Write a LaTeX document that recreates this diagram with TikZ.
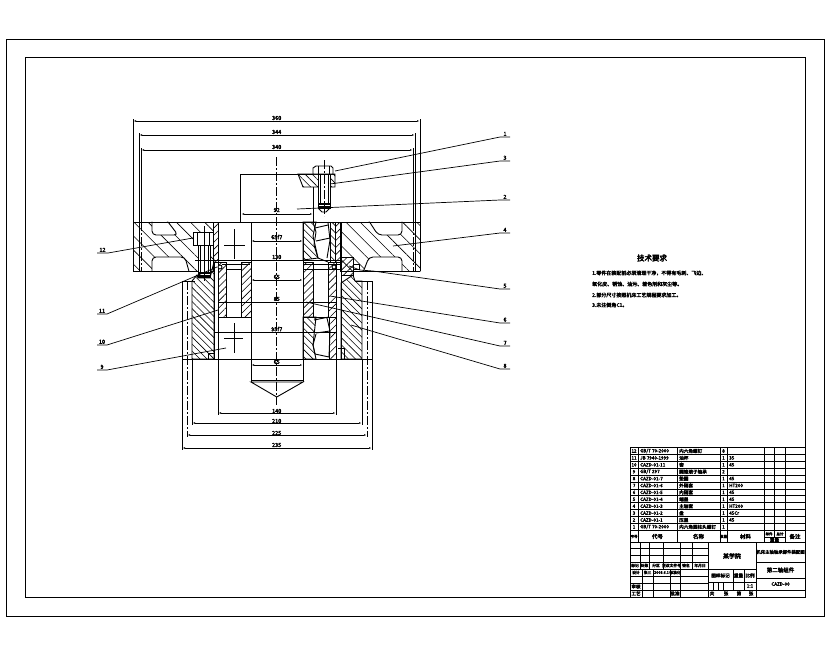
\documentclass[tikz,border=0pt]{standalone}
\usepackage{fontspec}
\setmainfont{Noto Sans CJK SC}
\newfontfamily\blobfont[FakeBold=4]{Noto Sans CJK SC}
\usetikzlibrary{patterns.meta,arrows.meta}
\newcommand{\gbcode}{GB/T}
\tikzset{
  part/.style={line width=.9pt},
  thin part/.style={line width=.7pt},
  hatch wide/.style={draw,line width=.9pt,pattern={Lines[angle=-45,distance=10pt,line width=.6pt]}},
  hatch back/.style={draw,line width=.9pt,pattern={Lines[angle=-45,distance=5pt,line width=.6pt]}},
  hatch fore/.style={draw,line width=.9pt,pattern={Lines[angle=45,distance=5pt,line width=.6pt]}},
  axis/.style={line width=.7pt,dash pattern=on 9pt off 2pt on 2pt off 2pt},
  dimline/.style={line width=.7pt,{Latex[length=3pt,width=1.6pt]}-{Latex[length=3pt,width=1.6pt]}},
  dimtext/.style={font=\blobfont\fontsize{5.5}{6}\selectfont,inner sep=0pt},
  partno/.style={font=\blobfont\fontsize{5.5}{6}\selectfont,inner sep=0pt},
  leader/.style={line width=.7pt},
  cell/.style={font=\blobfont\fontsize{4.6}{5}\selectfont,inner sep=0pt},
  note/.style={font=\blobfont\fontsize{5}{6}\selectfont,inner sep=0pt,anchor=west},
}
\begin{document}
\begin{tikzpicture}[x=1pt,y=-1pt]
\useasboundingbox (0,0) rectangle (830,654);
\fill[white] (0,0) rectangle (830,654);
% frames
\draw[part] (6,39) rectangle (824,616);
\draw[part] (25,57) rectangle (805,597);

% upper flange
\draw[hatch wide] (133,222) rectangle (213,271);
\draw[hatch wide] (340,222) rectangle (420,271);
\draw[part,fill=white,rounded corners=4pt] (152,218) -- (152,235) -- (178,235) -- (165,218);
\draw[part,fill=white,rounded corners=4pt] (152,275) -- (152,257) -- (185,257) -- (190,275);
\draw[part,fill=white,rounded corners=4pt] (367,218) -- (378,235) -- (402,235) -- (402,218);
\draw[part,fill=white,rounded corners=4pt] (362,275) -- (369,257) -- (402,257) -- (402,275);
\fill[white] (130,271.4) rectangle (195,276) (353,271.4) rectangle (424,276) (130,217) rectangle (424,221.6);
\draw[part] (133,222) -- (420,222) (133,271) -- (195,271) (353,271) -- (420,271);

% central block and cap screw
\draw[part] (240,222) -- (240,174) -- (335,174);
\draw[hatch back] (298,174) -- (335,174) -- (335,187) -- (303,187) -- cycle;
\draw[part,fill=white] (313,174) -- (313,168) -- (316,166) -- (331,166) -- (333,168) -- (333,174) -- cycle;
\draw[part] (318,166) -- (318,174) (329,166) -- (329,174);
\draw[part,fill=white] (318,174) rectangle (330,208);
\draw[part] (320,174) -- (320,205) (328,174) -- (328,205);
\draw[line width=1.6pt] (318,204) -- (330,204) (318,207) -- (330,207);
\draw[part] (318,208) -- (322,212) -- (326,212) -- (330,208);
\draw[axis] (324,160) -- (324,216);
\draw[part] (313,187) -- (313,222);

% columns between flange and bore
\draw[hatch fore] (213,222) rectangle (218,262);
\draw[part] (218,222) -- (218,359) (251,222) -- (251,382) (303,222) -- (303,382);
\draw[hatch back] (303,222) -- (316,222) -- (313,236) -- (318,258) -- (303,260) -- cycle;
\draw[part] (313,222) -- (316,232) -- (314,245) -- (318,258) -- (328,262);
\draw[part] (328,222) -- (330,240) -- (327,258);
\draw[part] (315,228) -- (328,225) (316,241) -- (330,238);
\draw[hatch back] (330,222) rectangle (335,262);
\draw[hatch fore] (335,222) rectangle (340,262);
\draw[part] (224,245) -- (245,245) (234.5,229) -- (234.5,259);

% left cap screw in flange
\draw[part,fill=white] (193,232) rectangle (213,245);
\draw[part] (197,232) -- (197,245) (209,232) -- (209,245);
\draw[part,fill=white] (198,245) rectangle (210,277);
\draw[part] (200,245) -- (200,272) (208,245) -- (208,272);
\draw[line width=1.6pt] (198,273) -- (210,273) (198,276) -- (210,276);
\draw[part] (204,226) -- (204,281);

% lower housing
\draw[hatch back] (192,281) -- (197,275) -- (198,278) -- (210,278) -- (214,262) -- (214,359) -- (192,359) -- cycle;
\draw[part] (208,359) -- (208,353) -- (214,353);
\draw[part] (214,262) rectangle (218,359);
\draw[hatch fore] (218,262) rectangle (226,317);
\draw[hatch fore] (241,262) rectangle (251,317);
\draw[part,fill=white] (226,269) rectangle (241,317);
\draw[part] (222,260) -- (250,260) (222,264) -- (250,264) (226,269) -- (241,269);
\draw[part,fill=white] (220,267) circle (2pt);
\draw[part] (218,317) -- (251,317);
\draw[part] (224,338) -- (243,338) (234.5,323) -- (234.5,353);

\draw[hatch fore] (303,262) rectangle (313,317);
\draw[hatch fore] (328,262) rectangle (336,317);
\draw[part,fill=white] (313,269) rectangle (328,317);
\draw[part] (303,264) -- (341,264) (303,269) -- (341,269) (303,260) -- (341,260);
\draw[part,fill=white] (334,267) circle (2pt);
\draw[hatch back] (303,317) -- (316,317) -- (313,345) -- (316,359) -- (303,359) -- cycle;
\draw[part] (314,320) -- (329,317) (316,333) -- (330,331) -- (327,318) (316,334) -- (313,345) -- (315,354) -- (329,357) (330,331) -- (329,357);
\draw[hatch fore] (329,317) rectangle (336,359);
\draw[part] (336,262) -- (336,359);
\draw[hatch back] (341,283) -- (353,275) -- (355,281) -- (362,281) -- (362,359) -- (341,359) -- cycle;
\draw[part] (341,222) -- (341,359);
\draw[hatch fore] (341.5,257) rectangle (353,275);
\draw[part] (353,264) -- (359,264) -- (359,269) -- (353,269);
\draw[part] (338,348) -- (344,348) -- (344,359);

% housing outline and bore end
\draw[part] (182,359) -- (372,359);
\draw[part] (182,281) -- (195,281) (355,281) -- (372,281);
\draw[part] (251,380) -- (303,380);
\draw[part] (251,382) -- (303,382) -- (276.7,397) -- cycle;

% extension lines
\draw[thin part] (133,119) -- (133,271) (420,119) -- (420,271);
\draw[thin part] (139,133) -- (139,271) (415,133) -- (415,271);
\draw[thin part] (141,148) -- (141,222) (413,148) -- (413,222);
\draw[axis] (141,222) -- (141,271) (413,222) -- (413,271);
\draw[thin part] (182,281) -- (182,450) (372,281) -- (372,450);
\draw[axis] (187,281) -- (187,437) (367,281) -- (367,437);
\draw[thin part] (192,359) -- (192,425) (362,359) -- (362,425);
\draw[thin part] (218,359) -- (218,415) (336,359) -- (336,415);
\draw[axis] (276.7,157) -- (276.7,405);

% dimensions
\draw[dimline] (133,121) -- (420,121);
\draw[dimline] (139,135) -- (415,135);
\draw[dimline] (141,150) -- (413,150);
\draw[dimline] (241,214) -- (313,214);
\draw[dimline] (251,241) -- (303,241);
\draw[thin part] (195,260) -- (341,260);
\draw[dimline] (251,280) -- (303,280);
\draw[thin part] (218,302) -- (336,302);
\draw[thin part] (214,332) -- (336,332);
\draw[dimline] (251,365) -- (303,365);
\draw[dimline] (218,413) -- (336,413);
\draw[dimline] (192,423) -- (362,423);
\draw[dimline] (187,435) -- (367,435);
\draw[dimline] (182,448) -- (372,448);
\foreach \posy/\dimval in {118/360,132/344,147/340,210/92,237/65f7,257/130,277/65,299/85,329/95f7,362/65,411/140,421/210,433/225,445/235}
  \node[dimtext] at (276.7,\posy) {\dimval};

% leaders with part numbers
\foreach \tagname/\tagtext/\tipx/\tipy/\endx/\endy/\farx in {
  one/1/335/171/500/137/510,three/3/330/184/500/161/510,two/2/297/209/500/200/510,
  four/4/393/246/500/233/510,six/6/330/296/500/323/510,seven/7/306/302/500/346/510,
  eight/8/351/325/500/369/510,twelve/12/193/238/108/253/97,eleven/11/217/267/107/314/97,
  ten/10/218/310/107/345/97,nine/9/226/348/107/370/97} {
  \coordinate (tip\tagname) at (\tipx,\tipy);
  \coordinate (bend\tagname) at (\endx,\endy);
  \node[partno,anchor=south] (no\tagname) at ({(\endx+\farx)/2},\endy-1) {\tagtext};
  \draw[leader] (tip\tagname) -- (bend\tagname) -- (\farx,\endy);
}
\coordinate (tipfive) at (349,266);
\coordinate (kneefive) at (360,270);
\coordinate (bendfive) at (500,289);
\node[partno,anchor=south] (nofive) at (505,288) {5};
\draw[leader] (tipfive) -- (kneefive) -- (373,271) -- (bendfive) -- (510,289);

% technical notes
\node[font=\blobfont\fontsize{7.5}{8}\selectfont,inner sep=0pt] (notehead) at (652,258) {技术要求};
\node[note] (noteone) at (592,273) {1.零件在装配前必须清理干净，不得有毛刺、飞边、};
\node[note] (notetwo) at (592,284) {氧化皮、锈蚀、油污、着色剂和灰尘等。};
\node[note] (notethree) at (592,295) {2.部分尺寸按照机床工艺规程要求加工。};
\node[note] (notefour) at (592,305) {3.未注倒角C1。};

% parts list
\foreach \rowy in {447.5,454.4,...,531} \draw[thin part] (630,\rowy) -- (805,\rowy);
\draw[part] (630,447.5) rectangle (805,597);
\foreach \colx in {638,677,720,727,764,774,785} \draw[thin part] (\colx,447.5) -- (\colx,530.5);
\foreach \rowno/\codetext/\nametext/\qtytext/\mattext in {
  12/\gbcode{} 70-2000/内六角螺钉/8/,11/JB 7940-1999/油杯/1/35,10/CAZD-01-11/套/1/45,
  9/\gbcode{} 297/圆锥滚子轴承/2/,8/CAZD-01-7/垫圈/1/45,7/CAZD-01-6/外隔套/1/HT200,
  6/CAZD-01-5/内隔套/1/45,5/CAZD-01-4/端盖/1/45,4/CAZD-01-3/主轴套/1/HT200,
  3/CAZD-01-2/盘/1/45Cr,2/CAZD-01-1/压盖/1/45,1/\gbcode{} 70-2000/内六角圆柱头螺钉/1/} {
  \pgfmathsetmacro{\rowmid}{451+(12-\rowno)*6.9}
  \node[cell] at (634,\rowmid) {\rowno};
  \node[cell,anchor=west] at (640,\rowmid) {\codetext};
  \node[cell,anchor=west] at (679,\rowmid) {\nametext};
  \node[cell] at (723.5,\rowmid) {\qtytext};
  \node[cell,anchor=west] at (729,\rowmid) {\mattext};
}
% list header
\foreach \colx in {638,677,720,727,764,785} \draw[thin part] (\colx,530.5) -- (\colx,542.5);
\draw[thin part] (764,537) -- (785,537) (774.5,530.5) -- (774.5,537);
\draw[part] (630,542.5) -- (805,542.5);
\foreach \colx/\celltext in {657.5/代号,698.5/名称,745.5/材料,795/备注}
  \node[cell,font=\blobfont\fontsize{5.5}{6}\selectfont] at (\colx,536.5) {\celltext};
\node[cell,font=\blobfont\fontsize{3.6}{4}\selectfont] at (634,536.5) {序号};
\node[cell,font=\blobfont\fontsize{3.6}{4}\selectfont] at (723.5,536.5) {数量};
\node[cell,font=\blobfont\fontsize{3.6}{4}\selectfont] at (769,534) {单件};
\node[cell,font=\blobfont\fontsize{3.6}{4}\selectfont] at (780,534) {总计};
\node[cell] at (774.5,540) {重量};

% title block
\foreach \rowy in {548,555,562,569,576,583,590} \draw[thin part] (630,\rowy) -- (708,\rowy);
\foreach \colx in {640,649,663,680,692} \draw[thin part] (\colx,542.5) -- (\colx,569);
\foreach \colx in {642,653,670,680} \draw[thin part] (\colx,569) -- (\colx,597);
\draw[part] (708,542.5) -- (708,597) (756,542.5) -- (756,597);
\draw[thin part] (708,569) -- (756,569) (708,582) -- (756,582) (708,590) -- (805,590);
\draw[thin part] (756,562) -- (805,562) (756,578) -- (805,578);
\foreach \colx in {733,744} \draw[thin part] (\colx,569) -- (\colx,590);
\foreach \colx in {713,718,723} \draw[thin part] (\colx,582) -- (\colx,590);
\node[cell,font=\blobfont\fontsize{6}{7}\selectfont] (schoolname) at (732,556) {某学院};
\node[cell,font=\blobfont\fontsize{4.4}{5}\selectfont] (drawingname) at (780.5,552) {机床主轴轴承部件装配图};
\node[cell,font=\blobfont\fontsize{5.5}{6}\selectfont] (drawingsub) at (780.5,570) {第二轴组件};
\node[cell] (drawingcode) at (780.5,584) {CAZD-00};
\foreach \colx/\celltext in {635/标记,644.5/处数,656/分区,671.5/更改文件号,686/签名,700/年月日}
  \node[cell,font=\blobfont\fontsize{3.8}{4}\selectfont] at (\colx,565.5) {\celltext};
\foreach \colx/\celltext in {636/设计,647.5/张三,661.5/2008.6.1,675/标准化}
  \node[cell,font=\blobfont\fontsize{3.8}{4}\selectfont] at (\colx,572.5) {\celltext};
\node[cell] at (636,586.5) {审核};
\node[cell] at (636,593.5) {工艺};
\node[cell] at (675,593.5) {批准};
\node[cell] at (720.5,575.5) {图样标记};
\node[cell] at (738.5,575.5) {重量};
\node[cell] at (750,575.5) {比例};
\node[cell] at (750,586) {1:1};
\foreach \colx/\celltext in {712/共,726/张,739/第,751/张}
  \node[cell] at (\colx,593.5) {\celltext};
\end{tikzpicture}
\end{document}
